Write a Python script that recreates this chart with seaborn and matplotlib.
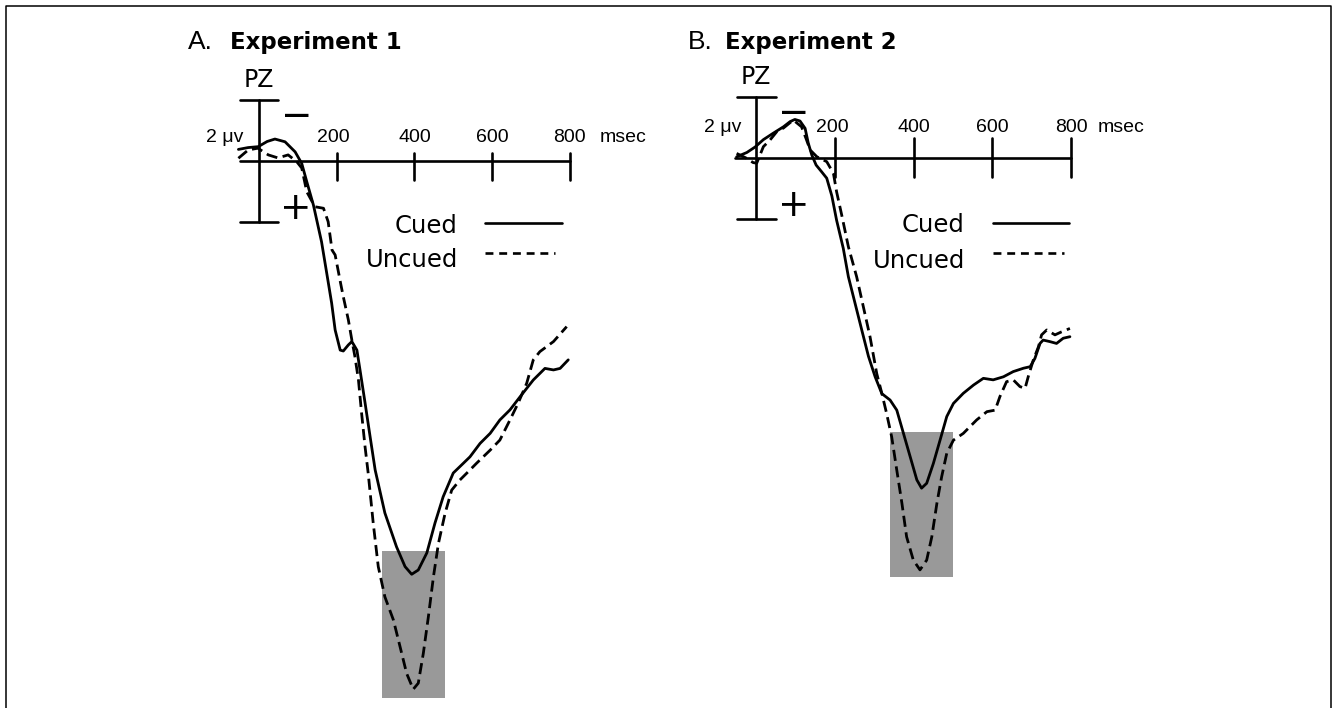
import numpy as np
import pandas as pd
import seaborn as sns
import matplotlib.pyplot as plt
from matplotlib.lines import Line2D

sns.set_style("white")
plt.rcParams['font.family'] = ['DejaVu Sans']
plt.rcParams['text.color'] = 'black'

W, H = 1332, 708

# ---------------- data (msec, microvolts; positive plotted downward) ----------------
A_cued_ms = [-53, -28, -2, 21, 41, 67, 93, 110, 123, 140, 161, 178, 187, 196, 209, 217, 230, 239,
             252, 260, 273, 286, 299, 324, 354, 376, 393, 410, 432, 453, 474, 500, 526, 543, 569,
             595, 620, 646, 672, 706, 736, 758, 775, 796]
A_cued_uv = [-0.38, -0.44, -0.47, -0.64, -0.72, -0.63, -0.30, 0.08, 0.68, 1.44, 2.65, 3.96, 4.66,
             5.54, 6.20, 6.23, 6.03, 5.92, 6.20, 6.85, 7.93, 9.04, 10.13, 11.54, 12.65, 13.30, 13.55,
             13.41, 12.85, 11.87, 11.01, 10.23, 9.91, 9.70, 9.26, 8.93, 8.49, 8.16, 7.73, 7.18,
             6.80, 6.85, 6.80, 6.52]
A_uncued_ms = [-53, -28, -3, 24, 49, 75, 97, 110, 123, 144, 166, 178, 188, 196, 211, 217, 230, 239,
               247, 256, 264, 273, 281, 294, 307, 324, 346, 363, 380, 397, 410, 423, 436, 449, 462,
               479, 496, 517, 543, 560, 595, 620, 646, 667, 689, 706, 723, 758, 792]
A_uncued_uv = [-0.09, -0.36, -0.42, -0.20, -0.10, -0.20, 0.02, 0.23, 1.01, 1.50, 1.55, 1.99, 2.92,
               3.08, 4.07, 4.45, 5.21, 5.87, 6.42, 7.18, 8.26, 9.37, 10.23, 11.87, 13.30, 14.29,
               15.05, 15.92, 16.80, 17.32, 17.12, 16.14, 14.94, 13.63, 12.53, 11.55, 10.79, 10.46,
               10.13, 9.91, 9.48, 9.15, 8.49, 7.94, 7.29, 6.52, 6.25, 5.92, 5.43]

B_cued_ms = [-50, -24, -3, 18, 43, 69, 86, 98, 111, 124, 132, 141, 152, 166, 179, 192, 204, 221,
             234, 251, 268, 285, 302, 319, 340, 357, 374, 391, 408, 420, 433, 450, 467, 484, 501,
             526, 552, 577, 602, 628, 653, 679, 696, 708, 721, 729, 746, 763, 780, 797]
B_cued_uv = [-0.04, -0.18, -0.36, -0.60, -0.81, -1.02, -1.19, -1.26, -1.21, -0.97, -0.49, -0.10,
             0.23, 0.45, 0.66, 1.24, 2.03, 2.95, 3.88, 4.75, 5.62, 6.48, 7.15, 7.70, 7.91, 8.24,
             9.00, 9.76, 10.52, 10.79, 10.63, 9.98, 9.22, 8.45, 8.02, 7.69, 7.42, 7.20, 7.25, 7.15,
             6.98, 6.87, 6.82, 6.55, 6.06, 5.95, 6.00, 6.06, 5.89, 5.84]
B_uncued_ms = [-50, -26, -8, 1, 18, 35, 52, 69, 94, 115, 126, 137, 154, 179, 196, 204, 217, 234,
               255, 272, 289, 306, 319, 331, 344, 357, 370, 382, 399, 416, 433, 446, 459, 471, 484,
               501, 526, 560, 586, 607, 619, 636, 653, 670, 683, 691, 704, 717, 725, 738, 759, 776, 797]
B_uncued_uv = [-0.15, 0.00, 0.15, 0.17, -0.37, -0.59, -0.86, -0.98, -1.24, -1.02, -0.65, -0.26,
               -0.04, 0.12, 0.50, 1.10, 1.86, 2.90, 3.88, 4.86, 5.84, 7.04, 7.69, 8.34, 9.11, 10.20,
               11.28, 12.38, 13.14, 13.46, 13.14, 12.38, 11.28, 10.42, 9.65, 9.22, 9.00, 8.56, 8.29,
               8.24, 7.80, 7.31, 7.25, 7.47, 7.53, 7.15, 6.60, 6.17, 5.78, 5.62, 5.78, 5.68, 5.57]

# analysis windows (msec) and their voltage extent (uV)
A_window_ms = [317, 479]
A_window_uv = [12.8, 17.6]
B_window_ms = [340, 500]
B_window_uv = [8.95, 13.7]

tick_ms = [200, 400, 600, 800]
conditions = ["Cued", "Uncued"]
titles = [("A.", "Experiment 1"), ("B.", "Experiment 2")]


def long_df(cued_ms, cued_uv, uncued_ms, uncued_uv):
    return pd.concat([
        pd.DataFrame({"ms": cued_ms, "uv": cued_uv, "cond": "Cued"}),
        pd.DataFrame({"ms": uncued_ms, "uv": uncued_uv, "cond": "Uncued"}),
    ], ignore_index=True)


def make_axes(fig, x0, sx, y0, sy, xlim, ylim):
    # x0/y0: pixel of (0 ms, 0 uV); sx px per ms, sy px per uV (downward)
    lpx, rpx = x0 + sx * xlim[0], x0 + sx * xlim[1]
    tpx, bpx = y0 + sy * ylim[0], y0 + sy * ylim[1]
    ax = fig.add_axes([lpx / W, 1 - bpx / H, (rpx - lpx) / W, (bpx - tpx) / H])
    ax.set_xlim(*xlim)
    ax.set_ylim(ylim[1], ylim[0])  # negative up
    ax.axis("off")
    return ax


fig = plt.figure(figsize=(W / 100, H / 100), dpi=100)

panels = [
    dict(df=long_df(A_cued_ms, A_cued_uv, A_uncued_ms, A_uncued_uv),
         win_ms=A_window_ms, win_uv=A_window_uv,
         x0=259, sx=0.3885, y0=161, sy=30.5,
         xaxis=(-49, 800), tick_span=(-0.26, 0.62), lab_uv=-0.63,
         leg_x=512, leg_base=(2.36, 3.48), leg_line=((582, 780), (582, 762)), leg_y=(2.03, 3.02),
         msec_x=878, uv_x=-41, title_px=(188, 230)),
    dict(df=long_df(B_cued_ms, B_cued_uv, B_uncued_ms, B_uncued_uv),
         win_ms=B_window_ms, win_uv=B_window_uv,
         x0=756.3, sx=0.3935, y0=158, sy=30.6,
         xaxis=(-54, 800), tick_span=(-0.65, 0.62), lab_uv=-0.86,
         leg_x=530, leg_base=(2.41, 3.59), leg_line=((601, 794), (601, 781)), leg_y=(2.13, 3.11),
         msec_x=868, uv_x=-37, title_px=(688, 725)),
]

for p, (letter, name) in zip(panels, titles):
    ax = make_axes(fig, p["x0"], p["sx"], p["y0"], p["sy"], (-130, 1000), (-3.6, 17.9))

    ax.fill_between(p["win_ms"], p["win_uv"][0], p["win_uv"][1], color="#999999", lw=0, zorder=1)

    sns.lineplot(data=p["df"], x="ms", y="uv", style="cond", style_order=conditions,
                 dashes={"Cued": "", "Uncued": (4, 2)}, color="black", lw=2,
                 estimator=None, sort=False, legend=False, ax=ax, zorder=3)
    for ln in ax.lines:
        ln.set_clip_on(False)

    # time axis with ticks
    ax.plot(p["xaxis"], [0, 0], color="black", lw=1.9, clip_on=False)
    for t in tick_ms:
        ax.plot([t, t], p["tick_span"], color="black", lw=1.9, clip_on=False)
        ax.text(t - 8 if t == 200 else t, p["lab_uv"], str(t), ha="center", va="baseline",
                fontsize=14, family="Liberation Sans")
    ax.text(p["msec_x"], p["lab_uv"], "msec", ha="left", va="baseline",
            fontsize=14, family="Liberation Sans")

    # voltage scale bar
    ax.plot([0, 0], [-2, 2], color="black", lw=1.9, clip_on=False)
    for v in (-2, 2):
        ax.plot([-50, 50], [v, v], color="black", lw=1.9, clip_on=False)
    ax.text(p["uv_x"], p["lab_uv"], "2 \u03bcv", ha="right", va="baseline",
            fontsize=14, family="Liberation Sans")
    ax.text(0, -2.42, "PZ", ha="center", va="baseline", fontsize=17)
    ax.text(96, -1.45, "\u2212", ha="center", va="center", fontsize=27)
    ax.text(95, 1.58, "+", ha="center", va="center", fontsize=27)

    # legend
    for cond, base, xs, yl, dash in zip(conditions, p["leg_base"], p["leg_line"], p["leg_y"],
                                        ["-", (0, (3, 2.2))]):
        ax.text(p["leg_x"], base, cond, ha="right", va="baseline", fontsize=17.5)
        ax.plot(xs, [yl, yl], color="black", lw=1.9, linestyle=dash, clip_on=False)

    # panel title
    fig.text(p["title_px"][0] / W, 1 - 49 / H, letter, fontsize=19,
             family="Liberation Sans", ha="left", va="baseline")
    fig.text(p["title_px"][1] / W, 1 - 49 / H, name, fontsize=16.5, fontweight="bold",
             ha="left", va="baseline")

# frame around the figure
fig.add_artist(Line2D([6 / W, 6 / W, 1331 / W, 1331 / W], [0, 1 - 6 / H, 1 - 6 / H, 0],
                      color="black", lw=1.1, transform=fig.transFigure))

fig.savefig("out.png", dpi=100)
